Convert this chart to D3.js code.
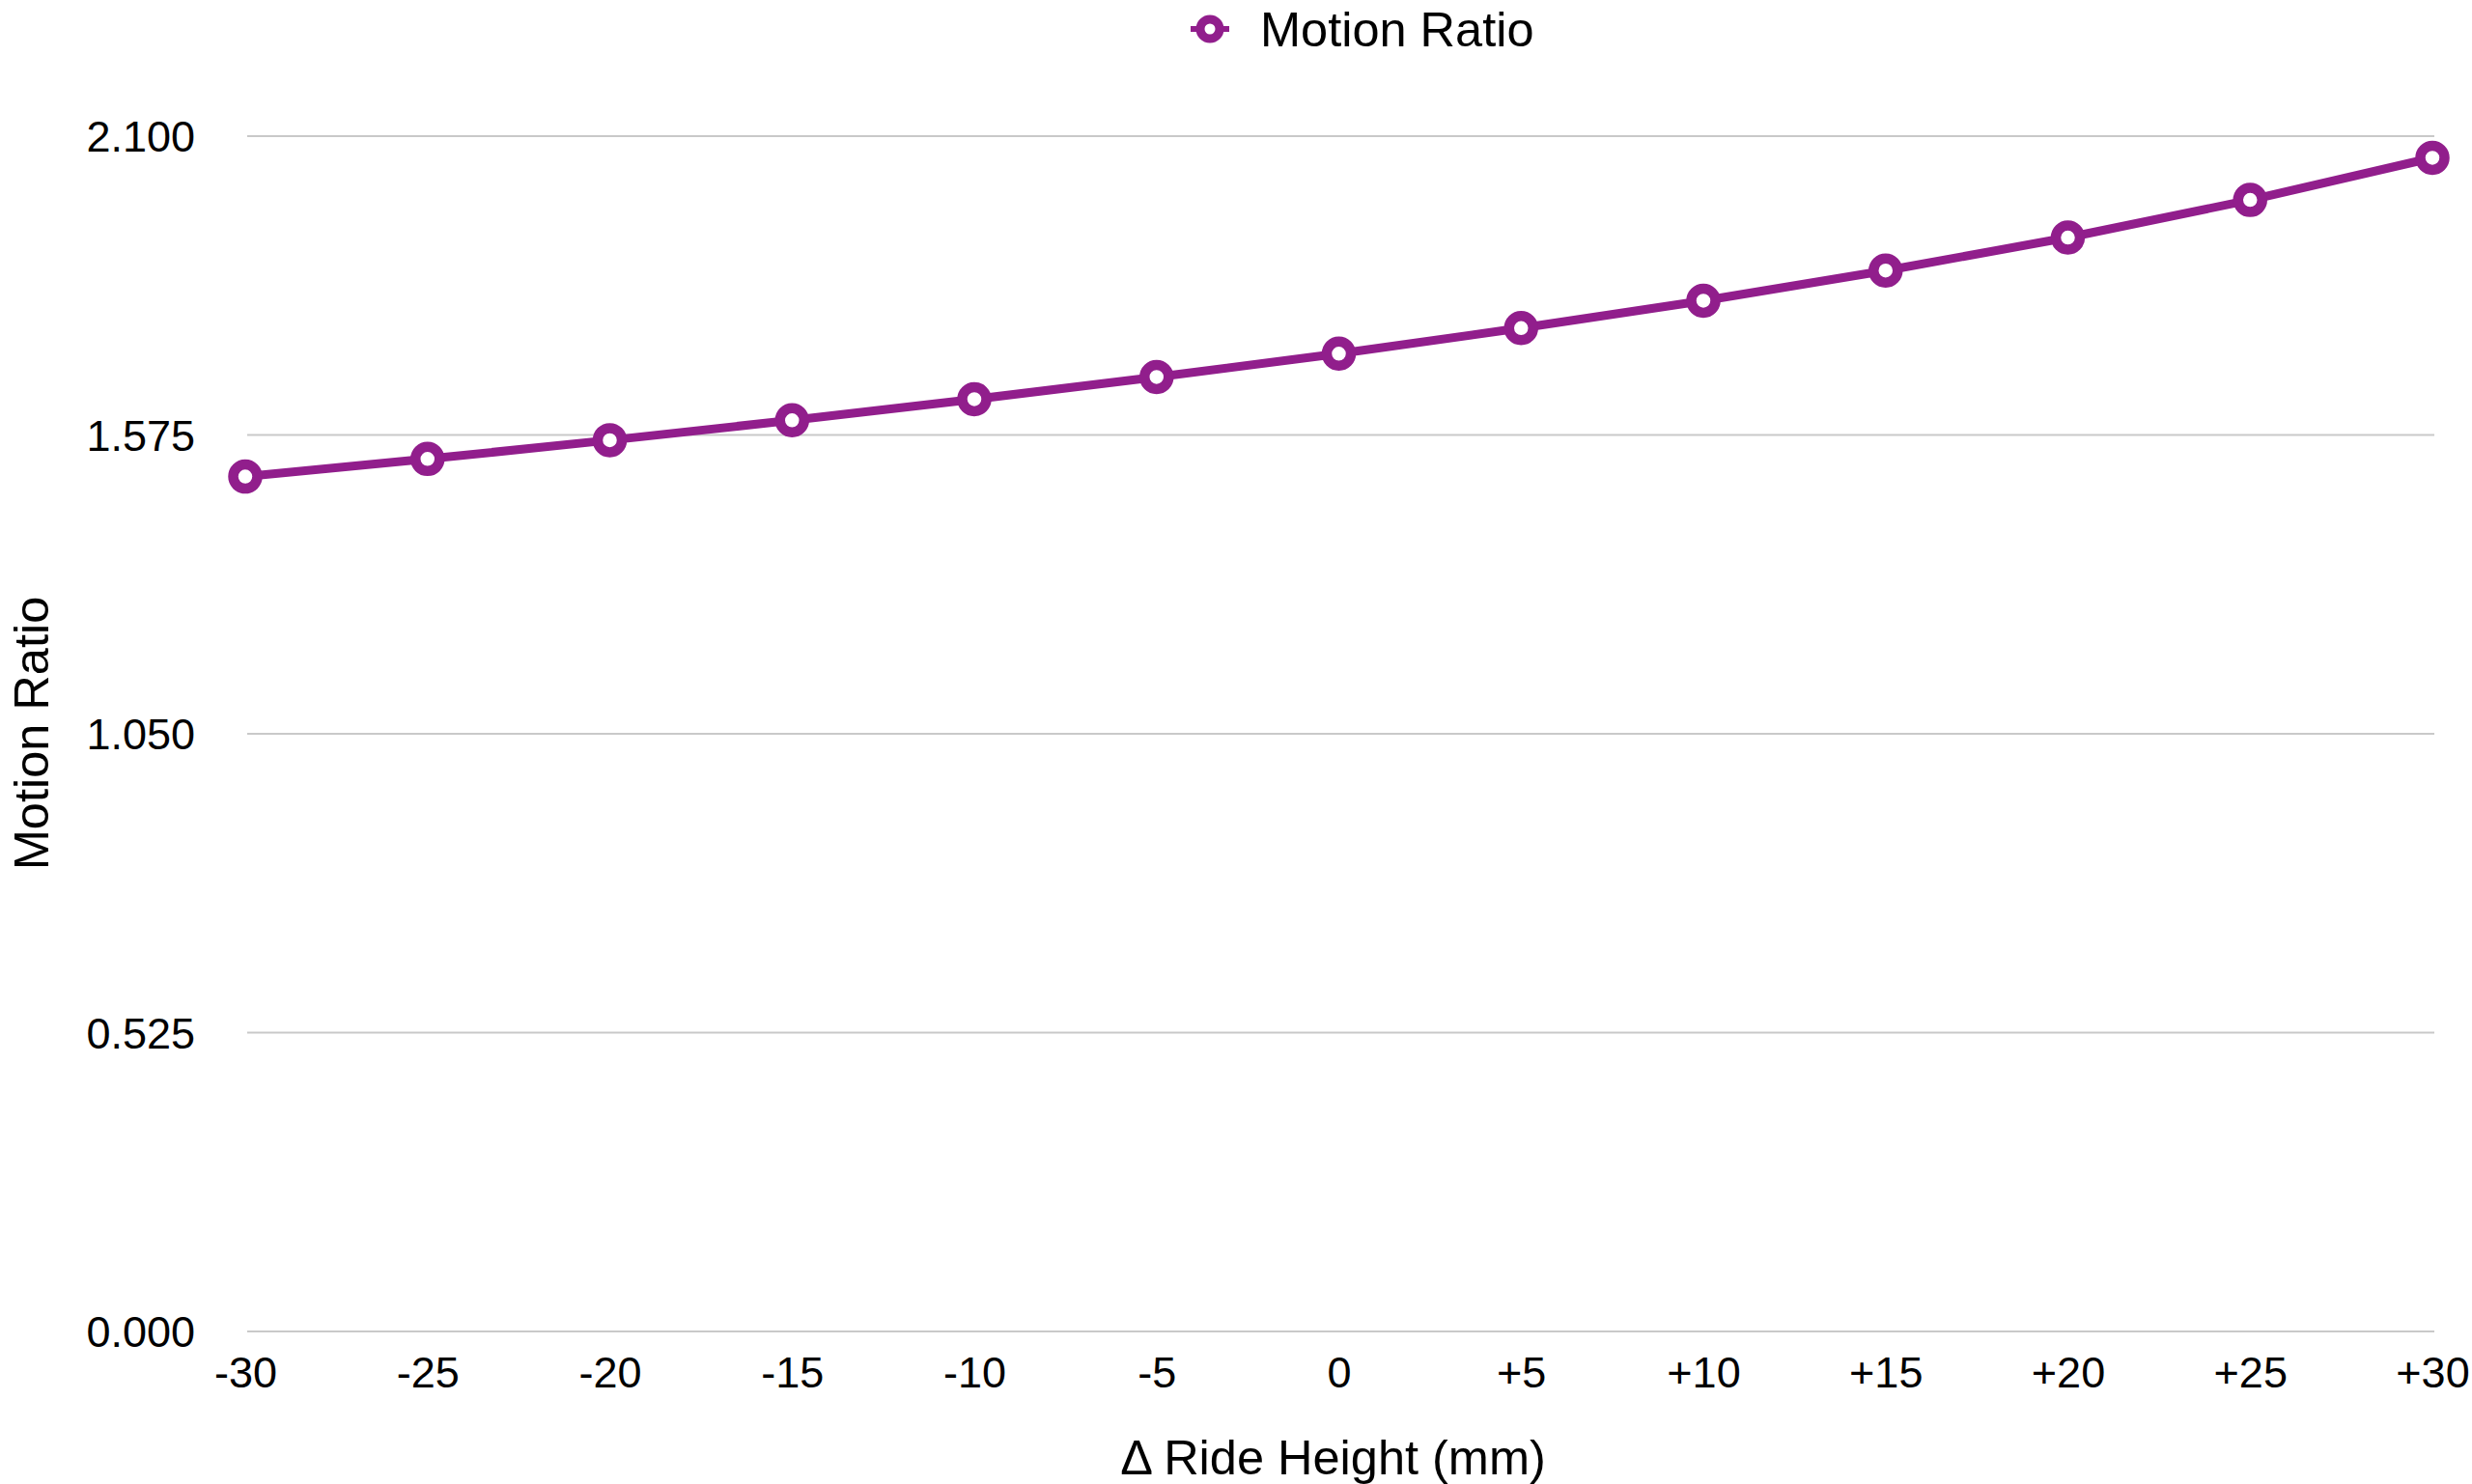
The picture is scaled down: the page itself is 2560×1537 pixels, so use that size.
<!DOCTYPE html>
<html>
<head>
<meta charset="utf-8">
<script src="https://cdn.jsdelivr.net/npm/d3@7"></script>
<style>
  html, body { margin: 0; padding: 0; background: #ffffff; }
  svg { display: block; }
  text { font-family: "Liberation Sans", Arial, Helvetica, sans-serif; fill: #000; }
</style>
</head>
<body>
<script>
const categories = ["-30", "-25", "-20", "-15", "-10", "-5", "0", "+5", "+10", "+15", "+20", "+25", "+30"];
const motionRatio = [1.501, 1.532, 1.565, 1.600, 1.637, 1.676, 1.717, 1.762, 1.810, 1.863, 1.921, 1.987, 2.061];
const yTicks = [0, 0.525, 1.05, 1.575, 2.1];
const seriesName = "Motion Ratio";
const xTitle = "Δ Ride Height (mm)";
const yTitle = "Motion Ratio";

const W = 2560, H = 1537;
const color = "#911e8c";
const svg = d3.select("body").append("svg").attr("width", W).attr("height", H);

const x = d3.scalePoint().domain(categories).range([254, 2519]);
const y = d3.scaleLinear().domain([0, 2.1]).range([1378.5, 140.5]);

// gridlines
const yAxis = d3.axisLeft(y).tickValues(yTicks).tickSize(-(2521 - 256)).tickPadding(54)
  .tickFormat(d3.format(".3f"));
const gy = svg.append("g").attr("transform", "translate(256,0)").call(yAxis);
gy.select(".domain").remove();
gy.selectAll(".tick line").attr("stroke", "#c9c9c9").attr("stroke-width", 2);
gy.selectAll(".tick text").attr("font-size", 45).attr("dy", "0.36em").attr("fill", "#000")
  .style("font-family", '"Liberation Sans", Arial, sans-serif');

// x axis labels
const xAxis = d3.axisBottom(x).tickSize(0).tickPadding(0);
const gx = svg.append("g").attr("transform", "translate(0,1437)").call(xAxis);
gx.select(".domain").remove();
gx.selectAll(".tick text").attr("font-size", 45).attr("dy", 0).attr("y", 0).attr("fill", "#000")
  .style("font-family", '"Liberation Sans", Arial, sans-serif');

// line
const data = categories.map((c, i) => ({ c, v: motionRatio[i] }));
const line = d3.line().x(d => x(d.c)).y(d => y(d.v));
svg.append("path").datum(data).attr("d", line)
  .attr("fill", "none").attr("stroke", color).attr("stroke-width", 9)
  .attr("stroke-linejoin", "round");

// markers
svg.append("g").selectAll("circle").data(data).join("circle")
  .attr("cx", d => x(d.c)).attr("cy", d => y(d.v)).attr("r", 12.5)
  .attr("fill", "#fff").attr("stroke", color).attr("stroke-width", 10.5);

// axis titles
svg.append("text").attr("x", (254 + 2519) / 2 - 6).attr("y", 1527)
  .attr("text-anchor", "middle").attr("font-size", 50.5).text(xTitle);
svg.append("text").attr("transform", "translate(50," + ((140.5 + 1378.5) / 2) + ") rotate(-90)")
  .attr("text-anchor", "middle").attr("font-size", 50.5).text(yTitle);

// legend
const lg = svg.append("g");
lg.append("line").attr("x1", 1233).attr("x2", 1273).attr("y1", 30).attr("y2", 30)
  .attr("stroke", color).attr("stroke-width", 6);
lg.append("circle").attr("cx", 1253).attr("cy", 30).attr("r", 10)
  .attr("fill", "#fff").attr("stroke", color).attr("stroke-width", 9);
lg.append("text").attr("x", 1305).attr("y", 48).attr("font-size", 50.5).text(seriesName);
</script>
</body>
</html>
